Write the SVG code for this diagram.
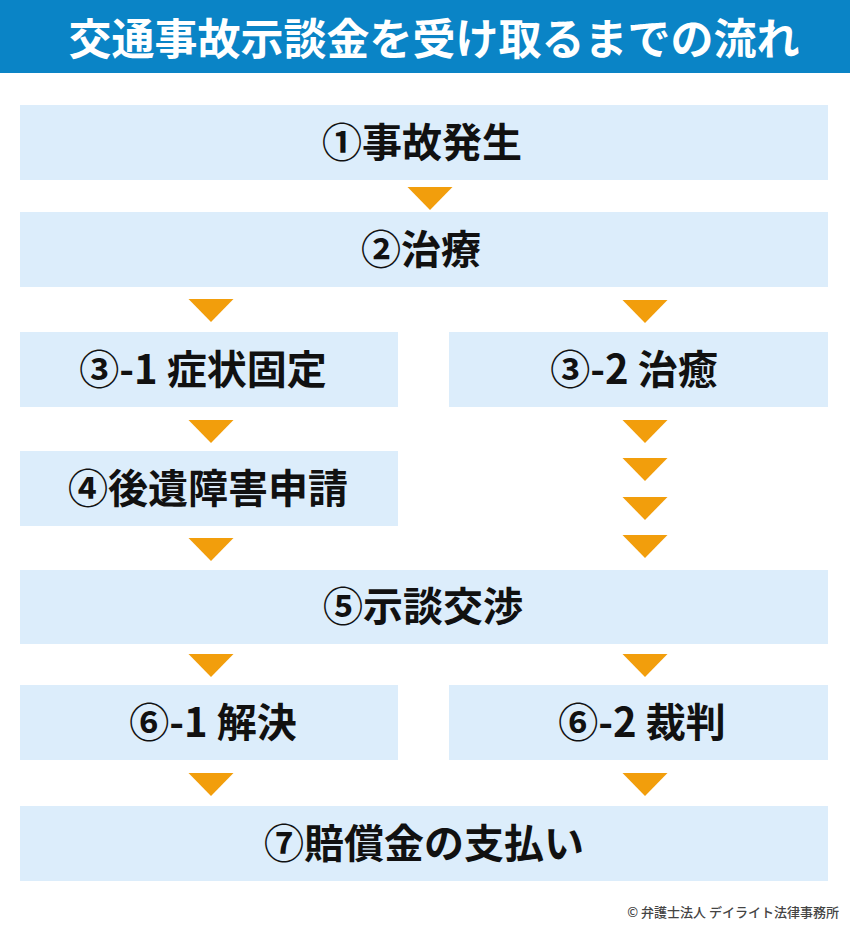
<svg xmlns="http://www.w3.org/2000/svg" width="850" height="926" viewBox="0 0 850 926">
<style>
.box{fill:#dcedfb}
.lbl{font-family:"Noto Sans CJK JP","Noto Sans",sans-serif;font-weight:bold;font-size:40px;fill:#111;text-anchor:middle}
.arr{fill:#f29e0c}
</style>
<defs>
<polygon id="tri" points="-22.5,0 22.5,0 0,23"/>
</defs>
<rect x="0" y="0" width="850" height="926" fill="#ffffff"/>
<g id="header">
<rect x="0" y="0" width="850" height="73" fill="#0a84c6"/>
<text x="434" y="55" font-family="Noto Sans CJK JP,sans-serif" font-weight="bold" font-size="43" fill="#ffffff" text-anchor="middle">交通事故示談金を受け取るまでの流れ</text>
</g>
<g id="n1"><rect class="box" x="20" y="105" width="808" height="75"/><text class="lbl" x="422" y="157">①事故発生</text></g>
<g id="n2"><rect class="box" x="20" y="212" width="808" height="75"/><text class="lbl" x="421" y="264">②治療</text></g>
<g id="n31"><rect class="box" x="20" y="332" width="378" height="75"/><text class="lbl" x="203" y="384">③-1 症状固定</text></g>
<g id="n32"><rect class="box" x="449" y="332" width="379" height="75"/><text class="lbl" x="634" y="384">③-2 治癒</text></g>
<g id="n4"><rect class="box" x="20" y="451" width="378" height="75"/><text class="lbl" x="208" y="503">④後遺障害申請</text></g>
<g id="n5"><rect class="box" x="20" y="570" width="808" height="74"/><text class="lbl" x="423" y="621">⑤示談交渉</text></g>
<g id="n61"><rect class="box" x="20" y="685" width="378" height="75"/><text class="lbl" x="213" y="737">⑥-1 解決</text></g>
<g id="n62"><rect class="box" x="449" y="685" width="379" height="75"/><text class="lbl" x="642" y="737">⑥-2 裁判</text></g>
<g id="n7"><rect class="box" x="20" y="806" width="808" height="75"/><text class="lbl" x="424" y="858">⑦賠償金の支払い</text></g>
<g id="connectors" class="arr">
<use href="#tri" x="430" y="187"/>
<use href="#tri" x="211" y="299"/>
<use href="#tri" x="645" y="300"/>
<use href="#tri" x="211" y="420"/>
<use href="#tri" x="645" y="420"/>
<use href="#tri" x="645" y="458"/>
<use href="#tri" x="645" y="497"/>
<use href="#tri" x="645" y="535"/>
<use href="#tri" x="211" y="538"/>
<use href="#tri" x="211" y="654"/>
<use href="#tri" x="645" y="654"/>
<use href="#tri" x="211" y="773"/>
<use href="#tri" x="645" y="773"/>
</g>
<text x="839" y="917" font-family="Noto Sans CJK JP,sans-serif" font-size="13" font-weight="500" fill="#444" text-anchor="end">© 弁護士法人 デイライト法律事務所</text>
</svg>
